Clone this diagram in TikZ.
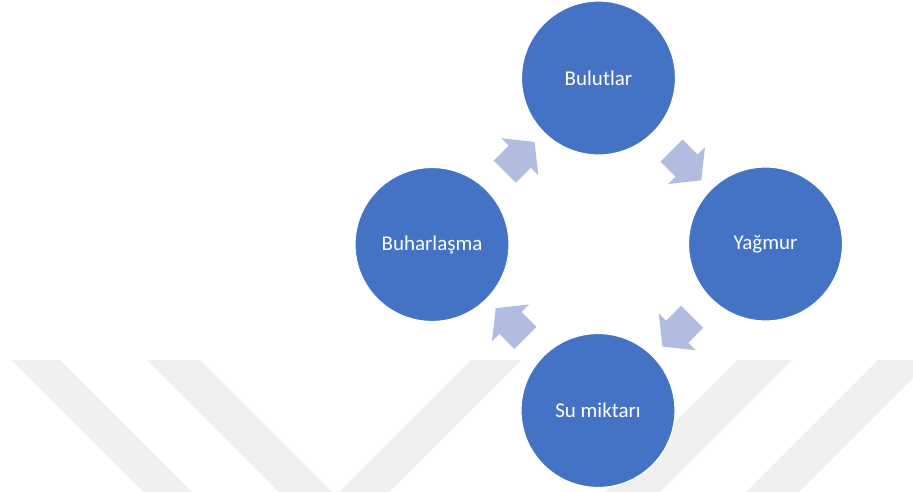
\documentclass[tikz,border=0pt]{standalone}
\usepackage{fontspec}
\setmainfont{Carlito}
\usetikzlibrary{shapes.arrows,calc}
\definecolor{cyclefill}{HTML}{4472C4}
\definecolor{cyclearrow}{HTML}{B0BDE0}
\definecolor{markgray}{HTML}{F0F0F0}
\begin{document}
\begin{tikzpicture}[x=1pt,y=-1pt,
  stage/.style={circle,fill=cyclefill,draw=white,line width=1.2pt,
    minimum size=154pt,inner sep=0pt,text=white,
    font=\fontsize{21}{25}\selectfont},
  flow/.style={single arrow,fill=cyclearrow,draw=none,
    minimum height=42pt,inner xsep=0pt,inner ysep=15.5pt,
    single arrow head extend=10.5pt,single arrow tip angle=103,
    single arrow head indent=0pt,rotate=#1},
  stripe/.style={fill=markgray}]
\useasboundingbox (0,0) rectangle (913,492);
\fill[white] (0,0) rectangle (913,492);

% faint diagonal background bands
\fill[stripe] (11.7,360) -- (60,360) -- (192,492) -- (143.7,492) -- cycle;
\fill[stripe] (146.7,360) -- (200,360) -- (332,492) -- (278.7,492) -- cycle;
\fill[stripe] (471.7,360) -- (521.7,360) -- (389.7,492) -- (339.7,492) -- cycle;
\fill[stripe] (737,360) -- (792,360) -- (660,492) -- (605,492) -- cycle;
\fill[stripe] (878,360) -- (931,360) -- (799,492) -- (746,492) -- cycle;

% the four stages of the cycle
\node[stage] (clouds) at (598.5,78) {Bulutlar};
\node[stage] (rain)   at (765.5,244) {Yağmur};
\node[stage] (water)  at (598,410.5) {Su miktarı};
\node[stage] (evap)   at (432,244.5) {Buharlaşma};

% block arrows between consecutive stages
\node[flow=-45]  (a1) at ($(clouds)!0.5!(rain)$) {};
\node[flow=-135] (a2) at ($(rain)!0.5!(water)$) {};
\node[flow=135]  (a3) at ($(water)!0.5!(evap)$) {};
\node[flow=45]   (a4) at ($(evap)!0.5!(clouds)$) {};
\end{tikzpicture}
\end{document}
